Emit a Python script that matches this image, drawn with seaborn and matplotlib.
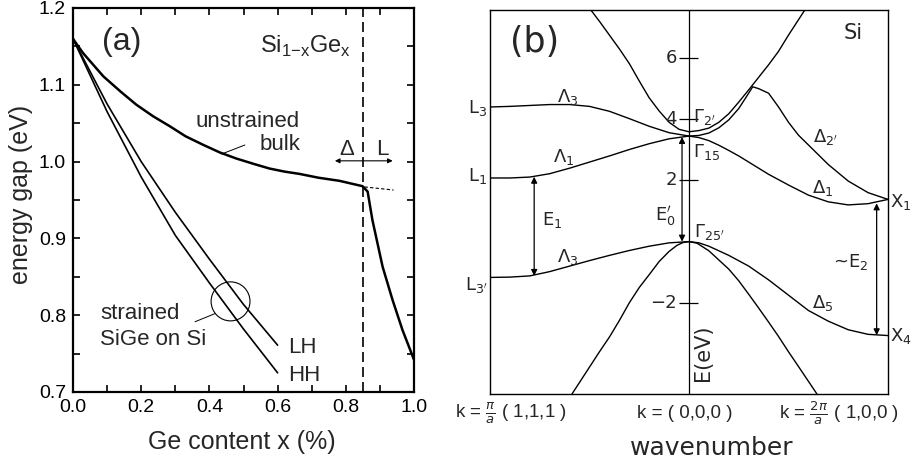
import numpy as np
import pandas as pd
import matplotlib
matplotlib.use("Agg")
import matplotlib.pyplot as plt
from matplotlib.patches import Ellipse
from matplotlib.ticker import MultipleLocator
import seaborn as sns

# ---------------- panel (a) data: Si(1-x)Ge(x) band gap ----------------
x_bulk_delta = [0.0, 0.006, 0.03, 0.089, 0.14, 0.186, 0.235, 0.284, 0.33, 0.381,
                0.43, 0.479, 0.53, 0.576, 0.62, 0.664, 0.72, 0.781, 0.849]
y_bulk_delta = [1.160, 1.156, 1.141, 1.111, 1.091, 1.074, 1.059, 1.046, 1.033, 1.022,
                1.012, 1.004, 0.997, 0.991, 0.987, 0.984, 0.979, 0.975, 0.968]
x_bulk_L = [0.849, 0.864, 0.878, 0.908, 0.937, 0.966, 1.0]
y_bulk_L = [0.968, 0.961, 0.924, 0.863, 0.820, 0.781, 0.742]
x_bulk_ext = [0.855, 0.94]
y_bulk_ext = [0.967, 0.963]

x_strained = [0.0, 0.1, 0.2, 0.3, 0.4, 0.5, 0.6]
y_HH = [1.160, 1.065, 0.980, 0.904, 0.842, 0.782, 0.725]
y_LH = [1.160, 1.075, 1.000, 0.934, 0.873, 0.814, 0.761]

x_crossover = 0.85
xticks_a = [0.0, 0.2, 0.4, 0.6, 0.8, 1.0]
yticks_a = [0.7, 0.8, 0.9, 1.0, 1.1, 1.2]

# ---------------- panel (b) data: Si band structure ----------------
# k: -1 = L, 0 = Gamma, +1 = X ; energies in eV
k_L = [-1.0, -0.9, -0.8, -0.7, -0.6, -0.5, -0.4, -0.3, -0.2, -0.1, 0.0]
E_Lambda3_c = [4.40, 4.42, 4.45, 4.48, 4.48, 4.42, 4.26, 4.02, 3.77, 3.56, 3.45]
E_Lambda1_c = [2.08, 2.08, 2.11, 2.22, 2.40, 2.60, 2.80, 3.01, 3.20, 3.36, 3.45]
E_Lambda3_v = [-1.17, -1.16, -1.12, -0.98, -0.80, -0.62, -0.45, -0.29, -0.15, -0.04, 0.0]

k_G2 = [-0.52, -0.45, -0.4, -0.35, -0.3, -0.25, -0.2, -0.15, -0.1, -0.05, 0.0,
        0.05, 0.1, 0.15, 0.2, 0.25, 0.3, 0.35, 0.4, 0.45, 0.5, 0.55, 0.6]
E_G2 = [7.80, 7.20, 6.75, 6.30, 5.82, 5.25, 4.70, 4.27, 3.90, 3.67, 3.59,
        3.63, 3.71, 3.90, 4.18, 4.56, 4.96, 5.37, 5.78, 6.22, 6.75, 7.25, 7.75]

k_D2 = [0.0, 0.05, 0.1, 0.15, 0.2, 0.25, 0.29, 0.32, 0.35, 0.4, 0.45, 0.5, 0.55,
        0.6, 0.7, 0.8, 0.9, 1.0]
E_D2 = [3.45, 3.47, 3.55, 3.72, 3.98, 4.35, 4.75, 5.06, 5.00, 4.85, 4.40, 3.90, 3.48,
        3.16, 2.52, 1.98, 1.60, 1.38]

k_D1 = [0.0, 0.05, 0.1, 0.15, 0.2, 0.25, 0.3, 0.4, 0.5, 0.6, 0.7, 0.8, 0.9, 1.0]
E_D1 = [3.45, 3.40, 3.30, 3.15, 2.98, 2.80, 2.60, 2.20, 1.85, 1.52, 1.30, 1.20, 1.24, 1.38]

k_D5 = [0.0, 0.05, 0.1, 0.2, 0.3, 0.4, 0.5, 0.6, 0.7, 0.8, 0.9, 1.0]
E_D5 = [0.0, -0.04, -0.15, -0.45, -0.80, -1.25, -1.75, -2.25, -2.60, -2.88, -3.03, -3.07]

k_lowL = [0.0, -0.03, -0.06, -0.1, -0.15, -0.2, -0.25, -0.3, -0.35, -0.4, -0.45, -0.5, -0.59]
E_lowL = [0.0, -0.03, -0.12, -0.32, -0.65, -1.08, -1.50, -2.00, -2.58, -3.12, -3.60, -4.10, -5.00]
k_lowX = [0.0, 0.04, 0.1, 0.15, 0.2, 0.25, 0.3, 0.35, 0.4, 0.45, 0.5, 0.55, 0.645]
E_lowX = [0.0, -0.05, -0.30, -0.60, -0.90, -1.28, -1.72, -2.17, -2.63, -3.10, -3.60, -4.08, -5.00]

arrow_k = [-0.778, -0.035, 0.943]
arrow_lo = [-1.12, 0.0, -3.06]
arrow_hi = [2.12, 3.42, 1.25]

tick_E = [6, 4, 2, -2]
tick_lbl = ["6", "4", "2", "\u22122"]

# ---------------- style ----------------
sns.set_theme(style="ticks")
plt.rcParams["font.family"] = ["Liberation Sans", "DejaVu Sans"]
plt.rcParams["axes.edgecolor"] = "black"
plt.rcParams["xtick.color"] = "black"
plt.rcParams["ytick.color"] = "black"

fig = plt.figure(figsize=(9.17, 4.68), dpi=100)
axa = fig.add_axes([73 / 917, (468 - 392) / 468, 341 / 917, 384 / 468])
axb = fig.add_axes([490 / 917, (468 - 394) / 468, 398 / 917, 384 / 468])

# ---------------- panel (a) ----------------
sns.lineplot(x=x_bulk_delta + x_bulk_L[1:], y=y_bulk_delta + y_bulk_L[1:], ax=axa,
             color="black", lw=1.8, sort=False, estimator=None)
sns.lineplot(x=x_bulk_ext, y=y_bulk_ext, ax=axa, color="black", lw=0.8,
             sort=False, estimator=None, linestyle=(0, (3, 2)))
sns.lineplot(x=x_strained, y=y_HH, ax=axa, color="black", lw=1.2, sort=False, estimator=None)
sns.lineplot(x=x_strained, y=y_LH, ax=axa, color="black", lw=1.2, sort=False, estimator=None)
axa.axvline(x_crossover, color="black", lw=1.2, linestyle=(0, (6, 3)))

axa.set_xlim(0, 1)
axa.set_ylim(0.7, 1.2)
axa.set_xticks(xticks_a)
axa.set_xticklabels([f"{v:.1f}" for v in xticks_a])
axa.set_yticks(yticks_a)
axa.set_yticklabels([f"{v:.1f}" for v in yticks_a])
axa.xaxis.set_minor_locator(MultipleLocator(0.1))
axa.yaxis.set_minor_locator(MultipleLocator(0.05))
axa.tick_params(which="both", direction="in", top=True, right=True, length=5, width=1.2)
axa.tick_params(which="major", labelsize=14, pad=5)
for s in axa.spines.values():
    s.set_linewidth(1.6)
    s.set_visible(True)

axa.set_xlabel("Ge content x (%)", fontsize=18)
axa.xaxis.set_label_coords(0.494, -0.10)
axa.set_ylabel("energy gap (eV)", fontsize=18)
axa.yaxis.set_label_coords(-0.118, 0.515)

axa.text(0.142, 1.156, "(a)", fontsize=23, ha="center", va="center")
axa.text(0.548, 1.150, r"Si$_{\mathregular{1{-}x}}$Ge$_{\mathregular{x}}$", fontsize=17,
         ha="left", va="center")
axa.text(0.666, 1.052, "unstrained", fontsize=16, ha="right", va="center")
axa.text(0.666, 1.022, "bulk", fontsize=16, ha="right", va="center")
axa.plot([0.504, 0.436], [1.0216, 1.0099], color="black", lw=0.7)
axa.text(0.802, 1.016, "\u0394", fontsize=16, ha="center", va="center")
axa.text(0.908, 1.016, "L", fontsize=16, ha="center", va="center")
axa.annotate("", xy=(0.768, 1.001), xytext=(0.9375, 1.001),
             arrowprops=dict(arrowstyle="<|-|>", color="black", lw=0.8,
                             mutation_scale=7, shrinkA=0, shrinkB=0))
axa.text(0.079, 0.802, "strained", fontsize=16, ha="left", va="center")
axa.text(0.079, 0.768, "SiGe on Si", fontsize=16, ha="left", va="center")
axa.plot([0.358, 0.416], [0.7915, 0.802], color="black", lw=0.7)
axa.add_patch(Ellipse((0.462, 0.818), 0.114, 0.0508, fill=False, ec="black", lw=0.8))
axa.text(0.63, 0.758, "LH", fontsize=16, ha="left", va="center")
axa.text(0.63, 0.722, "HH", fontsize=16, ha="left", va="center")

# ---------------- panel (b) ----------------
bands = {
    "Lambda3_c": (k_L, E_Lambda3_c),
    "Lambda1_c": (k_L, E_Lambda1_c),
    "Lambda3_v": (k_L, E_Lambda3_v),
    "Gamma2": (k_G2, E_G2),
    "Delta2": (k_D2, E_D2),
    "Delta1": (k_D1, E_D1),
    "Delta5": (k_D5, E_D5),
    "lowL": (k_lowL, E_lowL),
    "lowX": (k_lowX, E_lowX),
}
df_b = pd.concat([pd.DataFrame({"k": k, "E": E, "band": name})
                  for name, (k, E) in bands.items()], ignore_index=True)
sns.lineplot(data=df_b, x="k", y="E", units="band", estimator=None, sort=False,
             color="black", lw=1.0, ax=axb)

axb.set_xlim(-1, 1)
axb.set_ylim(-4.98, 7.57)
axb.set_xticks([])
axb.set_yticks([])
axb.set_xlabel("")
axb.set_ylabel("")
for s in axb.spines.values():
    s.set_linewidth(1.0)
    s.set_visible(True)
axb.axvline(0, color="black", lw=0.9)
axb.hlines(tick_E, -0.05, 0.045, color="black", lw=0.9)
for e, lbl in zip(tick_E, tick_lbl):
    axb.text(-0.06, e, lbl, fontsize=13, ha="right", va="center", family="DejaVu Sans")

for k, lo, hi in zip(arrow_k, arrow_lo, arrow_hi):
    axb.annotate("", xy=(k, hi), xytext=(k, lo),
                 arrowprops=dict(arrowstyle="<|-|>", color="black", lw=0.9,
                                 mutation_scale=9, shrinkA=0, shrinkB=0))

fb = dict(fontsize=13, family="DejaVu Sans")
axb.text(-0.774, 6.52, "(b)", fontsize=25, ha="center", va="center", family="DejaVu Sans")
axb.text(0.824, 6.81, "Si", ha="center", va="center", fontsize=15, family="DejaVu Sans")
axb.text(-0.608, 4.72, "\u039b$_3$", ha="center", va="center", **fb)
axb.text(-0.628, 2.76, "\u039b$_1$", ha="center", va="center", **fb)
axb.text(-0.608, -0.51, "\u039b$_3$", ha="center", va="center", **fb)
axb.text(0.02, 4.07, "\u0393$_{2'}$", ha="left", va="center", **fb)
axb.text(0.02, 2.92, "\u0393$_{15}$", ha="left", va="center", **fb)
axb.text(0.025, 0.31, "\u0393$_{25'}$", ha="left", va="center", **fb)
axb.text(-0.12, 0.83, "E$_0^{\\prime}$", ha="center", va="center", **fb)
axb.text(-0.688, 0.70, "E$_1$", ha="center", va="center", **fb)
axb.text(-1.015, 4.36, "L$_3$", ha="right", va="center", clip_on=False, **fb)
axb.text(-1.015, 2.14, "L$_1$", ha="right", va="center", clip_on=False, **fb)
axb.text(-1.01, -1.42, "L$_{3'}$", ha="right", va="center", clip_on=False, **fb)
axb.text(1.012, 1.29, "X$_1$", ha="left", va="center", clip_on=False, **fb)
axb.text(1.012, -3.09, "X$_4$", ha="left", va="center", clip_on=False, **fb)
axb.text(0.814, -0.67, "~E$_2$", ha="center", va="center", **fb)
axb.text(0.688, 3.42, "\u0394$_{2'}$", ha="center", va="center", **fb)
axb.text(0.673, 1.75, "\u0394$_1$", ha="center", va="center", **fb)
axb.text(0.673, -2.01, "\u0394$_5$", ha="center", va="center", **fb)
axb.text(0.069, -3.64, "E(eV)", rotation=90, ha="center", va="center",
         fontsize=15, family="DejaVu Sans")

xt = axb.get_xaxis_transform()
axb.text(-0.894, -0.05, r"k = $\frac{\pi}{a}$ ( 1,1,1 )", transform=xt, ha="center",
         va="center", fontsize=13.5, clip_on=False)
axb.text(-0.02, -0.05, "k = ( 0,0,0 )", transform=xt, ha="center", va="center",
         fontsize=13.5, clip_on=False)
axb.text(0.754, -0.05, r"k = $\frac{2\pi}{a}$ ( 1,0,0 )", transform=xt, ha="center",
         va="center", fontsize=13.5, clip_on=False)
axb.set_xlabel("wavenumber", fontsize=18, family="DejaVu Sans")
axb.xaxis.set_label_coords(0.558, -0.11)

fig.savefig("out.png", dpi=100)
